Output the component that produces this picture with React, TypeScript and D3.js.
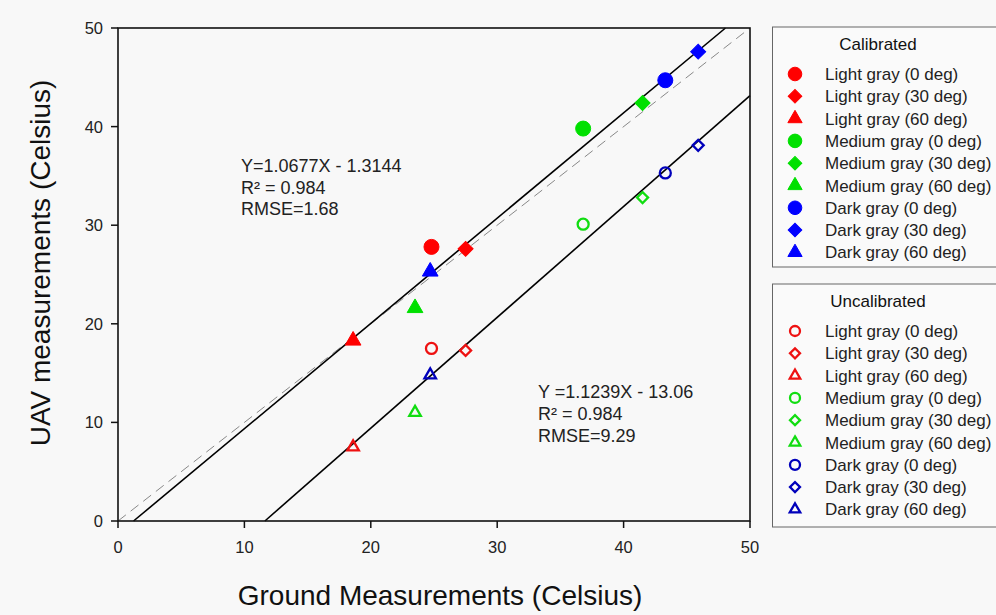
import React from "react";
import * as d3 from "d3";

// ground truth per panel (x) and the UAV readings before / after calibration (y)
const seriesNames = [
  "Light gray (0 deg)",
  "Light gray (30 deg)",
  "Light gray (60 deg)",
  "Medium gray (0 deg)",
  "Medium gray (30 deg)",
  "Medium gray (60 deg)",
  "Dark gray (0 deg)",
  "Dark gray (30 deg)",
  "Dark gray (60 deg)",
];
const seriesColors = ["#ff0000", "#ff0000", "#ff0000", "#00e000", "#00e000", "#00e000", "#0000ff", "#0000ff", "#0000ff"];
const openColors = ["#ee1111", "#ee1111", "#ee1111", "#11dd11", "#11dd11", "#11dd11", "#0000bb", "#0000bb", "#0000bb"];
const seriesShapes = ["circle", "diamond", "triangle", "circle", "diamond", "triangle", "circle", "diamond", "triangle"];
const groundX = [24.8, 27.5, 18.6, 36.8, 41.5, 23.5, 43.3, 45.9, 24.7];
const calibratedY = [27.8, 27.6, 18.3, 39.8, 42.4, 21.6, 44.7, 47.6, 25.3];
const uncalibratedY = [17.5, 17.3, 7.5, 30.1, 32.8, 11.0, 35.3, 38.1, 14.8];
const xTicks = [0, 10, 20, 30, 40, 50];
const yTicks = [0, 10, 20, 30, 40, 50];
// regression fits [slope, intercept]
const calFit = [1.0677, -1.3144];
const uncalFit = [1.1239, -13.06];
const calText = ["Y=1.0677X - 1.3144", "R\u00b2 = 0.984", "RMSE=1.68"];
const uncalText = ["Y =1.1239X - 13.06", "R\u00b2 = 0.984", "RMSE=9.29"];

const W = 996, H = 615;
const left = 118, right = 750, top = 28, bottom = 521;
const font = "'Liberation Sans', Arial, sans-serif";

function Marker({ shape, cx, cy, color, open, size }) {
  const area = shape === "circle" ? Math.PI * size * size : shape === "diamond" ? 2 * size * size : 1.1 * size * size * 1.73;
  const type = shape === "circle" ? d3.symbolCircle : shape === "diamond" ? d3.symbolSquare : d3.symbolTriangle;
  const d = d3.symbol().type(type).size(area)();
  const rot = shape === "diamond" ? " rotate(45)" : "";
  return (
    <path
      d={d}
      transform={`translate(${cx},${cy})${rot}`}
      fill={open ? "none" : color}
      stroke={color}
      strokeWidth={open ? 2.3 : 1}
    />
  );
}

function fitLine(fit, x, y) {
  const [a, b] = fit;
  const x0 = Math.max(0, -b / a);
  let x1 = 50;
  if (a * x1 + b > 50) x1 = (50 - b) / a;
  return { x1: x(x0), y1: y(a * x0 + b), x2: x(x1), y2: y(a * x1 + b) };
}

function Legend({ title, y0, h, open }) {
  return (
    <g>
      <rect x={772.5} y={y0} width={240} height={h} fill="#fafafa" stroke="#666" strokeWidth={1} />
      <text x={878} y={y0 + 23} fontSize={17} textAnchor="middle" fontFamily={font} fill="#111">
        {title}
      </text>
      {seriesNames.map((n, i) => {
        const cy = y0 + 47 + i * 22.3;
        return (
          <g key={n}>
            <Marker shape={seriesShapes[i]} cx={795} cy={cy} color={open ? openColors[i] : seriesColors[i]} open={open} size={open ? 5 : 6.8} />
            <text x={825} y={cy + 6} fontSize={17} fontFamily={font} fill="#222">
              {n}
            </text>
          </g>
        );
      })}
    </g>
  );
}

export default function App() {
  const x = d3.scaleLinear().domain([0, 50]).range([left, right]);
  const y = d3.scaleLinear().domain([0, 50]).range([bottom, top]);
  const cal = fitLine(calFit, x, y);
  const unc = fitLine(uncalFit, x, y);

  return (
    <svg width={W} height={H} style={{ position: "absolute", left: 0, top: 0, background: "#f8f8f8" }}>
      <line x1={x(0)} y1={y(0)} x2={x(50)} y2={y(50)} stroke="#888" strokeWidth={1} strokeDasharray="10,6" />
      <line {...cal} stroke="#000" strokeWidth={1.6} />
      <line {...unc} stroke="#000" strokeWidth={1.6} />

      {groundX.map((gx, i) => (
        <Marker key={"c" + i} shape={seriesShapes[i]} cx={x(gx)} cy={y(calibratedY[i])} color={seriesColors[i]} open={false} size={7.5} />
      ))}
      {groundX.map((gx, i) => (
        <Marker key={"u" + i} shape={seriesShapes[i]} cx={x(gx)} cy={y(uncalibratedY[i])} color={openColors[i]} open={true} size={5.5} />
      ))}

      {/* frame */}
      <rect x={left} y={top} width={right - left} height={bottom - top} fill="none" stroke="#111" strokeWidth={1.6} />
      {xTicks.map((t) => (
        <g key={"x" + t}>
          <line x1={x(t)} x2={x(t)} y1={bottom} y2={bottom + 7} stroke="#111" strokeWidth={1.5} />
          <text x={x(t)} y={bottom + 32} fontSize={16.5} textAnchor="middle" fontFamily={font} fill="#222">
            {t}
          </text>
        </g>
      ))}
      {yTicks.map((t) => (
        <g key={"y" + t}>
          <line x1={left - 7} x2={left} y1={y(t)} y2={y(t)} stroke="#111" strokeWidth={1.5} />
          <text x={left - 15} y={y(t) + 6} fontSize={16.5} textAnchor="end" fontFamily={font} fill="#222">
            {t}
          </text>
        </g>
      ))}

      {calText.map((s, i) => (
        <text key={s} x={241} y={172 + i * 21.5} fontSize={18} fontFamily={font} fill="#222">
          {s}
        </text>
      ))}
      {uncalText.map((s, i) => (
        <text key={s} x={538} y={398 + i * 22} fontSize={18} fontFamily={font} fill="#222">
          {s}
        </text>
      ))}

      <text x={440} y={605} fontSize={28} textAnchor="middle" fontFamily={font} fill="#111">
        Ground Measurements (Celsius)
      </text>
      <text transform={`translate(50,263) rotate(-90)`} fontSize={28} textAnchor="middle" fontFamily={font} fill="#111">
        UAV measurements (Celsius)
      </text>

      <Legend title="Calibrated" y0={27} h={240} open={false} />
      <Legend title="Uncalibrated" y0={284} h={243} open={true} />
    </svg>
  );
}
